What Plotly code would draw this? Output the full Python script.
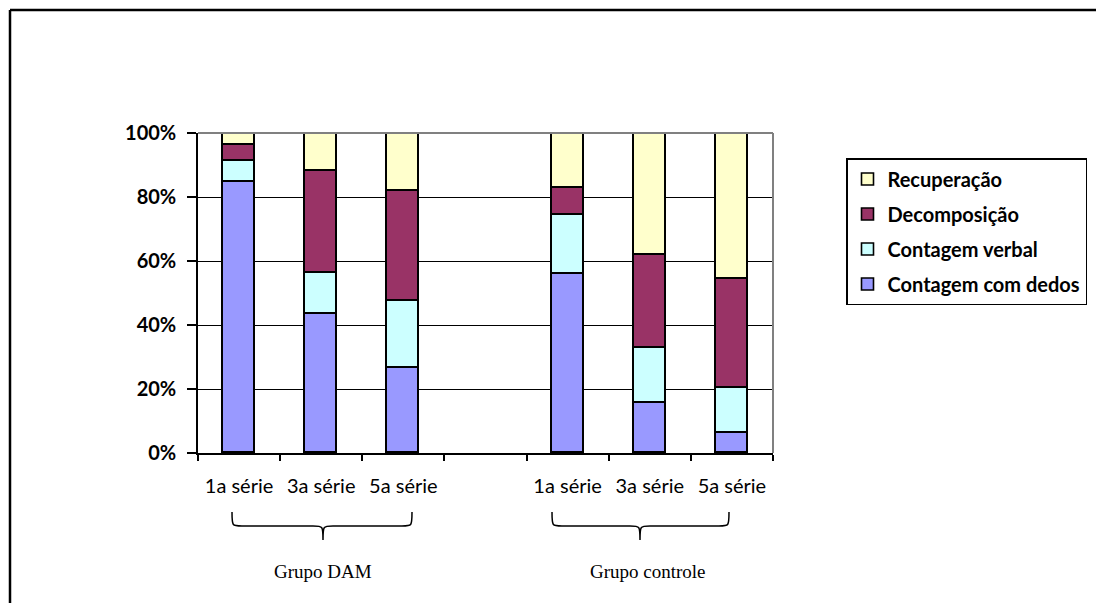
import plotly.graph_objects as go

# ---- data ----
categories = ["DAM-1a", "DAM-3a", "DAM-5a", "gap", "CTRL-1a", "CTRL-3a", "CTRL-5a"]
tick_labels = ["1a série", "3a série", "5a série", "", "1a série", "3a série", "5a série"]
contagem_dedos = [84.6, 43.3, 26.6, None, 55.9, 15.7, 6.1]
contagem_verbal = [6.7, 13.1, 21.0, None, 18.4, 17.1, 14.3]
decomposicao = [5.0, 31.6, 34.2, None, 8.4, 29.1, 34.1]
recuperacao = [3.7, 12.0, 18.2, None, 17.3, 38.1, 45.5]
y_ticks = [0, 20, 40, 60, 80, 100]
group_labels = ["Grupo DAM", "Grupo controle"]

# page has an 8px body margin; all positions below are screen pixels
OFF = 8
SW, SH = 1104, 603
W, H = SW - OFF, SH - OFF
L, R, T, B = 198, 773, 133, 453  # plot area in screen pixels


def px(x):
    return (x - L) / (R - L)


def py(y):
    return (B - y) / (B - T)


series = [
    ("Contagem com dedos", contagem_dedos, "#9999FF", 4),
    ("Contagem verbal", contagem_verbal, "#CCFFFF", 3),
    ("Decomposição", decomposicao, "#993366", 2),
    ("Recuperação", recuperacao, "#FFFFCC", 1),
]

fig = go.Figure()
for name, vals, col, rank in series:
    fig.add_trace(go.Bar(
        x=categories, y=vals, name=name, legendgroup=name, legendrank=rank,
        marker=dict(color=col, line=dict(color="black", width=1.6)),
        width=0.39,
    ))

fig.update_layout(
    width=W, height=H,
    margin=dict(l=L - OFF, r=SW - R, t=T - OFF, b=SH - B, pad=0),
    paper_bgcolor="white", plot_bgcolor="white",
    barmode="stack", bargap=0,
    showlegend=True,
    legend=dict(
        x=px(846), y=py(158), xanchor="left", yanchor="top",
        xref="paper", yref="paper",
        traceorder="grouped", tracegroupgap=6,
        bordercolor="black", borderwidth=1.5, bgcolor="white",
        font=dict(family="Lato, Arial, sans-serif", size=20, color="black", weight="bold"),
        itemwidth=30,
    ),
    font=dict(family="Lato, Arial, sans-serif", color="black"),
)

fig.update_xaxes(
    type="category", categoryorder="array", categoryarray=categories,
    tickvals=categories, ticktext=tick_labels,
    tickson="boundaries", ticks="outside", ticklen=6, tickwidth=1.5, tickcolor="black",
    showline=True, linecolor="black", linewidth=1.5,
    showgrid=False, range=[-0.5, 6.5],
    tickfont=dict(family="Lato, Arial, sans-serif", size=20, color="black"),
    ticklabelstandoff=14,
)

fig.update_yaxes(
    range=[0, 100], tickvals=y_ticks, ticktext=[f"{v}%" for v in y_ticks],
    ticks="outside", ticklen=9, tickwidth=1.5, tickcolor="black",
    showline=True, linecolor="black", linewidth=1.5,
    showgrid=True, gridcolor="black", gridwidth=1.3,
    zeroline=False,
    tickfont=dict(family="Lato, Arial, sans-serif", size=20, color="black", weight="bold"),
    ticklabelstandoff=7,
)

shapes = []
# gray plot-area border (top and right)
shapes.append(dict(type="line", xref="paper", yref="paper", x0=0, x1=1, y0=1, y1=1,
                   line=dict(color="#808080", width=2), layer="above"))
shapes.append(dict(type="line", xref="paper", yref="paper", x0=1, x1=1, y0=0, y1=1,
                   line=dict(color="#808080", width=2), layer="above"))
# outer frame (top and left)
shapes.append(dict(type="line", xref="paper", yref="paper", x0=px(10), x1=px(1110), y0=py(10), y1=py(10),
                   line=dict(color="black", width=2.5)))
shapes.append(dict(type="line", xref="paper", yref="paper", x0=px(10), x1=px(10), y0=py(10), y1=py(610),
                   line=dict(color="black", width=2.5)))


def brace(x0, x1, xm, ytop, ymid, ytip):
    r = 10
    pts = (
        f"M {px(x0)},{py(ytop)} "
        f"C {px(x0)},{py(ymid)} {px(x0)},{py(ymid)} {px(x0 + r)},{py(ymid)} "
        f"L {px(xm - r)},{py(ymid)} "
        f"C {px(xm)},{py(ymid)} {px(xm)},{py(ymid)} {px(xm)},{py(ytip)} "
        f"C {px(xm)},{py(ymid)} {px(xm)},{py(ymid)} {px(xm + r)},{py(ymid)} "
        f"L {px(x1 - r)},{py(ymid)} "
        f"C {px(x1)},{py(ymid)} {px(x1)},{py(ymid)} {px(x1)},{py(ytop)}"
    )
    return dict(type="path", xref="paper", yref="paper", path=pts,
                line=dict(color="black", width=1.5))


shapes.append(brace(232, 412, 323, 512, 526, 540))
shapes.append(brace(552, 729, 640, 512, 526, 540))
fig.update_layout(shapes=shapes)

for lab, cx in zip(group_labels, [323, 648]):
    fig.add_annotation(text=lab, xref="paper", yref="paper", x=px(cx), y=py(571),
                       showarrow=False, xanchor="center", yanchor="middle",
                       font=dict(family="Liberation Serif, Times New Roman, serif", size=19, color="black"))

fig.write_html("out.html")
